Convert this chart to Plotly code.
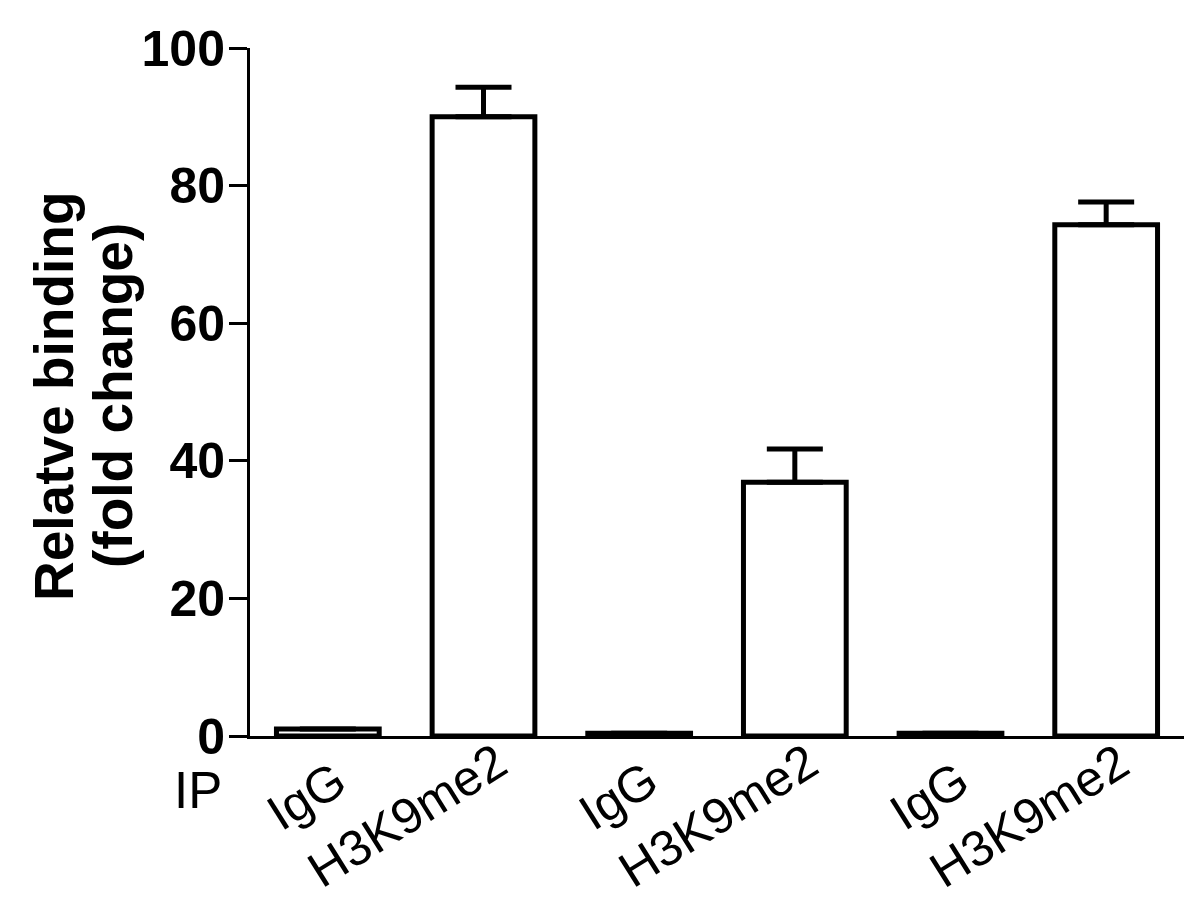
import plotly.graph_objects as go

# ---- data ----
labels = ["IgG", "H3K9me2", "IgG", "H3K9me2", "IgG", "H3K9me2"]
values = [1.0, 90.0, 0.4, 36.9, 0.4, 74.3]
errors = [None, 4.3, None, 4.8, None, 3.3]
y_ticks = [0, 20, 40, 60, 80, 100]
y_title_lines = ["Relatve binding", "(fold change)"]
group_label = "IP"

positions = list(range(len(labels)))

# ---- layout (page pixels; the html body adds an 8px margin) ----
OFF = 8
W, H = 1198, 902
plot_left_img, plot_right_img = 249.5, 1184
plot_top_img, plot_bottom_img = 46, 736.5

L = int(round(plot_left_img - OFF))
T = int(round(plot_top_img - OFF))
R = int(round(W - (plot_right_img - OFF)))
B = int(round(H - (plot_bottom_img - OFF)))
plot_w = W - L - R
plot_h = H - T - B


def py(img_y):
    """image y pixel -> paper y"""
    fig_y = img_y - OFF
    return (H - B - fig_y) / plot_h


def px(img_x):
    """image x pixel -> paper x"""
    fig_x = img_x - OFF
    return (fig_x - L) / plot_w


# label placement (style): x shift in px from category centre, y centre in image px
label_style = {
    "IgG": dict(xshift=-21, ypx=796),
    "H3K9me2": dict(xshift=-77, ypx=816),
}

FONT = "Liberation Sans, Arial, sans-serif"

fig = go.Figure()
fig.add_trace(go.Bar(
    x=positions,
    y=values,
    width=0.66,
    marker=dict(color="white", line=dict(color="black", width=5)),
    error_y=dict(
        type="data",
        symmetric=False,
        array=errors,
        arrayminus=[0 if e is not None else None for e in errors],
        color="black",
        thickness=5,
        width=28,
    ),
    showlegend=False,
))

annotations = []
for p, lab in zip(positions, labels):
    st = label_style[lab]
    annotations.append(dict(
        x=p, xref="x",
        y=py(st["ypx"]), yref="paper",
        text=lab, showarrow=False, textangle=-32,
        xanchor="center", yanchor="middle", xshift=st["xshift"],
        font=dict(family=FONT, size=50, color="black"),
    ))

annotations.append(dict(
    x=px(224), xref="paper",
    y=py(790.5), yref="paper",
    text=group_label, showarrow=False,
    xanchor="right", yanchor="middle",
    font=dict(family=FONT, size=51, color="black"),
))

# y-axis title, two lines
for line_text, cx in zip(y_title_lines, [54, 113]):
    annotations.append(dict(
        x=px(cx), xref="paper",
        y=py(395), yref="paper",
        text=line_text, showarrow=False, textangle=-90,
        xanchor="center", yanchor="middle",
        font=dict(family=FONT, size=55, color="black", weight="bold"),
    ))

fig.update_layout(
    width=W, height=H, autosize=False,
    margin=dict(l=L, r=R, t=T, b=B, pad=0),
    paper_bgcolor="white", plot_bgcolor="white",
    annotations=annotations,
)
fig.update_xaxes(
    range=[-0.5, 5.5],
    showline=True, linecolor="black", linewidth=3,
    showticklabels=False, ticks="", showgrid=False, zeroline=False,
)
fig.update_yaxes(
    range=[0, 100],
    tickvals=y_ticks,
    ticks="outside", ticklen=18, tickwidth=3, tickcolor="black",
    showline=True, linecolor="black", linewidth=3,
    showgrid=False, zeroline=False,
    ticklabelstandoff=-6,
    tickfont=dict(family="Liberation Sans Narrow, Liberation Sans, Arial", size=50,
                  color="black", weight="bold"),
)

fig.write_html("out.html")
